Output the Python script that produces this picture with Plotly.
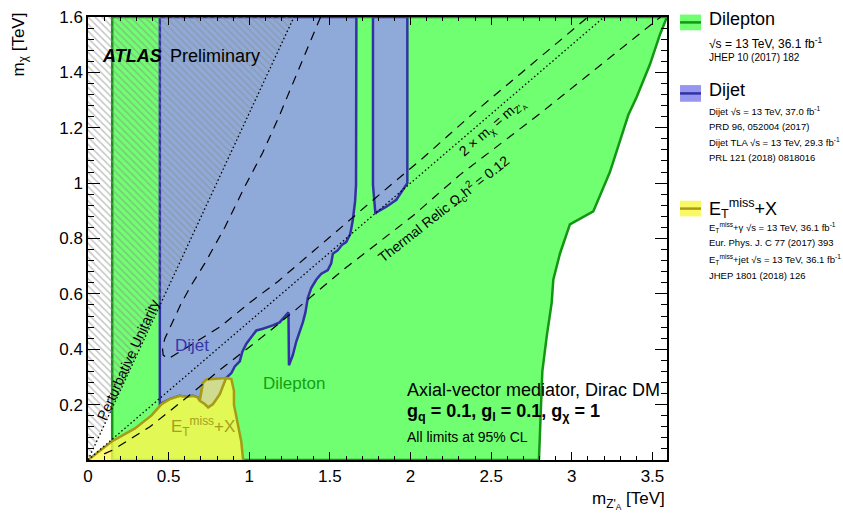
import plotly.graph_objects as go

# ---------------- data (TeV) ----------------
# Dilepton exclusion: left edge and right-hand contour (top -> bottom)
dilep_left_x = 0.15
dilep_edge_x = [3.59, 3.546, 3.485, 3.402, 3.35, 3.309, 3.236, 3.133, 2.988, 2.926, 2.885, 2.875, 2.845, 2.817, 2.796]
dilep_edge_y = [1.6, 1.536, 1.43, 1.311, 1.246, 1.17, 1.04, 0.898, 0.851, 0.745, 0.651, 0.568, 0.45, 0.32, 0.0]

# Dijet exclusion (main region): left edge, lower contour, right edge
dijet_left_x = 0.4455
dijet_lo_x = [0.4455, 0.507, 0.569, 0.611, 0.651, 0.680, 0.693, 0.724, 0.745, 0.775, 0.817, 0.856,
              0.889, 0.910, 0.941, 0.957, 0.982, 1.013, 1.044, 1.084, 1.146, 1.188, 1.243, 1.246,
              1.270, 1.291, 1.312, 1.332, 1.348, 1.363, 1.384, 1.415, 1.445, 1.487, 1.508, 1.518,
              1.548, 1.576, 1.601, 1.626, 1.641, 1.656, 1.662]
dijet_lo_y = [0.202, 0.220, 0.232, 0.228, 0.232, 0.226, 0.214, 0.202, 0.190, 0.202, 0.238, 0.296,
              0.314, 0.338, 0.356, 0.391, 0.420, 0.444, 0.468, 0.474, 0.486, 0.497, 0.533, 0.342,
              0.379, 0.427, 0.462, 0.497, 0.533, 0.586, 0.621, 0.651, 0.672, 0.686, 0.710, 0.745,
              0.757, 0.778, 0.787, 0.816, 0.863, 0.934, 0.993]
dijet_right_x = 1.664

# Dijet TLA strip
tla_x = [1.767, 1.767, 1.782, 1.788, 1.850, 1.912, 1.931, 1.974, 1.980, 1.980]
tla_y = [1.6, 0.993, 0.889, 0.894, 0.915, 0.940, 0.957, 0.992, 1.0, 1.6]

# E_T^miss + X exclusion contour
emiss_x = [0.0, 0.147, 0.291, 0.394, 0.456, 0.507, 0.569, 0.611, 0.651, 0.680, 0.693, 0.713, 0.735,
           0.82, 0.856, 0.889, 0.905, 0.905, 0.925, 0.95, 0.962]
emiss_y = [0.0, 0.067, 0.114, 0.161, 0.202, 0.220, 0.232, 0.228, 0.232, 0.226, 0.214, 0.279, 0.291,
           0.296, 0.296, 0.292, 0.25, 0.20, 0.135, 0.068, 0.0]

# Thermal relic Omega_c h^2 = 0.12 curves
relic_hi_x = [1.442, 1.184, 1.083, 0.971, 0.848, 0.724, 0.642, 0.580, 0.528, 0.476, 0.462, 0.466,
              0.497, 0.817, 1.002, 1.178, 1.83, 2.075, 2.384, 3.055, 3.10]
relic_hi_y = [1.6, 1.24, 1.11, 0.986, 0.84, 0.71, 0.633, 0.568, 0.503, 0.438, 0.403, 0.379,
              0.365, 0.48, 0.568, 0.645, 0.97, 1.09, 1.25, 1.577, 1.6]
relic_lo_x = [0.1, 0.157, 0.384, 0.6, 0.806, 1.106, 1.291, 1.58, 2.013, 2.302, 2.817, 3.519, 3.55]
relic_lo_y = [0.022, 0.037, 0.12, 0.22, 0.32, 0.456, 0.544, 0.686, 0.881, 1.028, 1.258, 1.583, 1.6]

# Reference lines
kin_x = [0.0, 3.2]          # 2 x m_chi = m_Z'
kin_y = [0.0, 1.6]
unit_x = [0.0, 1.277]       # perturbative unitarity, m_chi = sqrt(pi/2) m_Z'
unit_y = [0.0, 1.6]

x_ticks = [0, 0.5, 1, 1.5, 2, 2.5, 3, 3.5]
x_labels = ["0", "0.5", "1", "1.5", "2", "2.5", "3", "3.5"]
y_ticks = [0.2, 0.4, 0.6, 0.8, 1.0, 1.2, 1.4, 1.6]
y_labels = ["0.2", "0.4", "0.6", "0.8", "1", "1.2", "1.4", "1.6"]
X_MAX, Y_MAX = 3.59, 1.6

# ---------------- styles ----------------
FONT = "Liberation Sans, Arial, Helvetica, sans-serif"
GREEN_FILL = "rgb(112,255,112)"
GREEN_LINE = "rgb(20,150,20)"
BLUE_FILL = "rgba(150,150,240,0.81)"
BLUE_LINE = "rgb(50,50,165)"
YEL_FILL = "rgba(249,246,79,0.825)"
YEL_LINE = "rgb(165,155,20)"
OVERLAP_FILL = "rgb(207,219,142)"

fig = go.Figure()

# Dilepton
gx = [dilep_left_x, dilep_left_x] + dilep_edge_x + [dilep_left_x]
gy = [0.0, Y_MAX] + dilep_edge_y + [0.0]
fig.add_trace(go.Scatter(x=gx, y=gy, fill="toself", fillcolor=GREEN_FILL, mode="lines",
                         line=dict(color=GREEN_LINE, width=2.5)))

# Dijet
bx = [dijet_left_x] + dijet_lo_x + [dijet_right_x, dijet_left_x]
by = [Y_MAX] + dijet_lo_y + [Y_MAX, Y_MAX]
fig.add_trace(go.Scatter(x=bx, y=by, fill="toself", fillcolor=BLUE_FILL, mode="lines",
                         line=dict(color=BLUE_LINE, width=2.5)))
fig.add_trace(go.Scatter(x=tla_x + [tla_x[0]], y=tla_y + [tla_y[0]], fill="toself",
                         fillcolor=BLUE_FILL, mode="lines", line=dict(color=BLUE_LINE, width=2.5)))

# E_T^miss + X
fig.add_trace(go.Scatter(x=emiss_x, y=emiss_y, fill="toself", fillcolor=YEL_FILL, mode="lines",
                         line=dict(color=YEL_LINE, width=2.5)))

# Region excluded by both dijet and E_T^miss+X
j_e, p_e = emiss_x.index(0.693), emiss_x.index(0.856)
j_d, p_d = dijet_lo_x.index(0.693), dijet_lo_x.index(0.856)
ov_x = emiss_x[j_e:p_e + 1] + dijet_lo_x[j_d:p_d + 1][::-1]
ov_y = emiss_y[j_e:p_e + 1] + dijet_lo_y[j_d:p_d + 1][::-1]
fig.add_trace(go.Scatter(x=ov_x, y=ov_y, fill="toself", fillcolor=OVERLAP_FILL, mode="lines",
                         line=dict(color=YEL_LINE, width=2.5)))

# Perturbative-unitarity hatched area
fig.add_trace(go.Scatter(x=unit_x + [0.0, 0.0], y=unit_y + [Y_MAX, 0.0], fill="toself",
                         fillcolor="rgba(0,0,0,0)", mode="none",
                         fillpattern=dict(shape="\\", fgcolor="rgb(140,140,140)",
                                          bgcolor="rgba(0,0,0,0)", size=5, solidity=0.3)))

# Lines
fig.add_trace(go.Scatter(x=unit_x, y=unit_y, mode="lines",
                         line=dict(color="black", width=1.3, dash="1.5px,2.5px")))
fig.add_trace(go.Scatter(x=kin_x, y=kin_y, mode="lines",
                         line=dict(color="black", width=1.3, dash="1.5px,2.5px")))
fig.add_trace(go.Scatter(x=relic_hi_x, y=relic_hi_y, mode="lines",
                         line=dict(color="black", width=1.2, dash="9px,7px")))
fig.add_trace(go.Scatter(x=relic_lo_x, y=relic_lo_y, mode="lines",
                         line=dict(color="black", width=1.2, dash="9px,7px")))

ann = []


def text(x, y, s, size, color="black", xanchor="left", yanchor="middle", angle=0, ref="data"):
    xr, yr = ("x", "y") if ref == "data" else ("paper", "paper")
    ann.append(dict(x=x, y=y, xref=xr, yref=yr, text=s, showarrow=False, xanchor=xanchor,
                    yanchor=yanchor, textangle=angle, font=dict(family=FONT, size=size, color=color)))


# in-frame labels
text(0.074, 1.458, "<b><i>ATLAS</i></b>", 18)
text(0.495, 1.458, "Preliminary", 18)
text(0.248, 0.361, "Perturbative Unitarity", 14, xanchor="center", angle=-65.5)
text(2.51, 1.20, "2 × m<sub>χ</sub> = m<sub>Z'<sub>A</sub></sub>", 14, xanchor="center", angle=-41.2)
text(2.207, 0.905, "Thermal Relic Ω<sub>c</sub>h<sup>2</sup> = 0.12", 14, xanchor="center", angle=-38.2)
text(0.643, 0.415, "Dijet", 17, color="rgb(55,55,170)", xanchor="center")
text(1.277, 0.275, "Dilepton", 17, color="rgb(20,160,20)", xanchor="center")
text(0.713, 0.122, "E<sub>T</sub><sup>miss</sup>+X", 17, color="rgb(165,160,30)", xanchor="center")
text(1.968, 0.2525, "Axial-vector mediator, Dirac DM", 18)
text(1.968, 0.172, "<b>g<sub>q</sub> = 0.1, g<sub>l</sub> = 0.1, g<sub>χ</sub> = 1</b>", 18)
text(1.968, 0.0826, "All limits at 95% CL", 14)

# axis titles
text(-0.118, 1.014, "m<sub>χ</sub> [TeV]", 17, xanchor="center", yanchor="top", angle=-90, ref="paper")
text(1.0, -0.092, "m<sub>Z'<sub>A</sub></sub> [TeV]", 17, xanchor="right", ref="paper")

# legend
LX = 1.069
D = 0.009
text(LX, 0.9856 + D, "Dilepton", 18, ref="paper")
text(LX, 0.9325 + D, "√s = 13 TeV, 36.1 fb<sup>-1</sup>", 12, ref="paper")
text(LX, 0.8993 + D, "JHEP 10 (2017) 182", 10, ref="paper")
text(LX, 0.8263 + D, "Dijet", 18, ref="paper")
text(LX, 0.7799 + D, "Dijet √s = 13 TeV, 37.0 fb<sup>-1</sup>", 9.5, ref="paper")
text(LX, 0.7445 + D, "PRD 96, 052004 (2017)", 9.5, ref="paper")
text(LX, 0.7091 + D, "Dijet TLA √s = 13 TeV, 29.3 fb<sup>-1</sup>", 9.5, ref="paper")
text(LX, 0.6737 + D, "PRL 121 (2018) 0818016", 9.5, ref="paper")
text(LX, 0.5586 + D, "E<sub>T</sub><sup>miss</sup>+X", 18, ref="paper")
text(LX, 0.5166 + D, "E<sub>T</sub><sup>miss</sup>+γ √s = 13 TeV, 36.1 fb<sup>-1</sup>", 9.5, ref="paper")
text(LX, 0.4812 + D, "Eur. Phys. J. C 77 (2017) 393", 9.5, ref="paper")
text(LX, 0.4436 + D, "E<sub>T</sub><sup>miss</sup>+jet √s = 13 TeV, 36.1 fb<sup>-1</sup>", 9.5, ref="paper")
text(LX, 0.4082 + D, "JHEP 1801 (2018) 126", 9.5, ref="paper")

shapes = []
for (y0, y1, fc, lc) in [(0.9701, 1.0055, "rgb(112,255,112)", GREEN_LINE),
                         (0.8087, 0.8463, "rgb(150,150,240)", BLUE_LINE),
                         (0.5498, 0.5852, "rgb(250,248,100)", YEL_LINE)]:
    shapes.append(dict(type="rect", xref="paper", yref="paper", x0=1.0225, x1=1.0587, y0=y0, y1=y1,
                       fillcolor=fc, line=dict(width=0)))
    shapes.append(dict(type="line", xref="paper", yref="paper", x0=1.0225, x1=1.0587,
                       y0=(y0 + y1) / 2, y1=(y0 + y1) / 2, line=dict(color=lc, width=2.5)))

axis_common = dict(showgrid=False, zeroline=False, showline=True, linecolor="black", linewidth=1.5,
                   mirror="allticks", ticks="inside", tickcolor="black",
                   tickfont=dict(family=FONT, size=17, color="black"))

fig.update_layout(
    width=843, height=521,
    margin=dict(l=88, r=176, t=8, b=61),
    paper_bgcolor="white", plot_bgcolor="white",
    showlegend=False,
    annotations=ann, shapes=shapes,
    xaxis=dict(range=[0, X_MAX], tickmode="array", tickvals=x_ticks, ticktext=x_labels, ticklen=8,
               minor=dict(ticks="inside", ticklen=4, tickmode="linear", tick0=0, dtick=0.1,
                          tickcolor="black"),
               **axis_common),
    yaxis=dict(range=[0, Y_MAX], tickmode="array", tickvals=y_ticks, ticktext=y_labels, ticklen=12,
               minor=dict(ticks="inside", ticklen=6, tickmode="linear", tick0=0, dtick=0.04,
                          tickcolor="black"),
               **axis_common),
)

fig.write_html("out.html")
